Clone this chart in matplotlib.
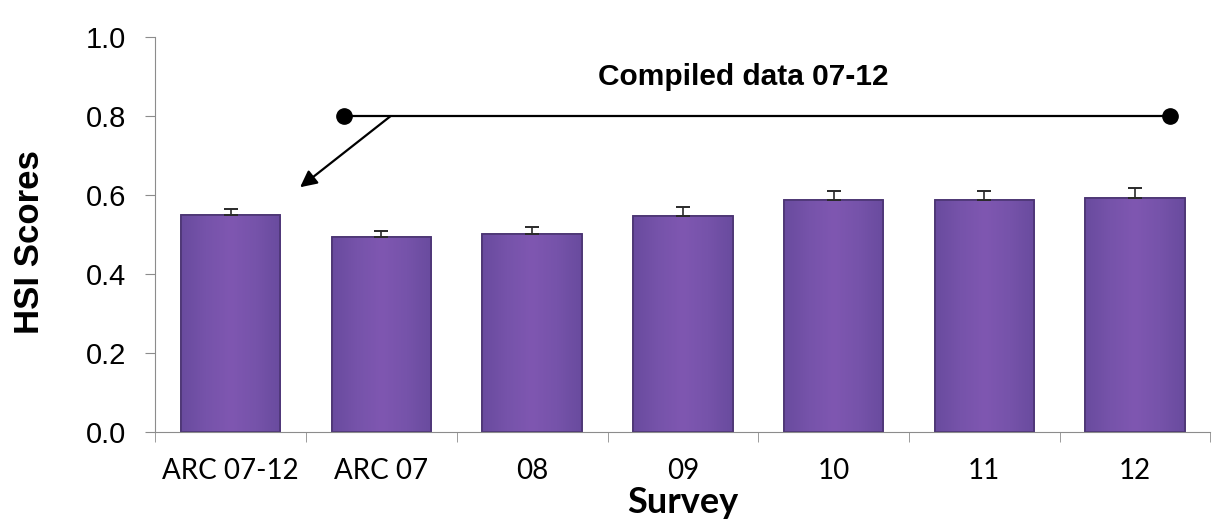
"""
HSI scores by survey, bar chart with error bars.
"""

import numpy as np
import matplotlib.pyplot as plt
from matplotlib.colors import LinearSegmentedColormap

surveys = ['ARC 07-12', 'ARC 07', '08', '09', '10', '11', '12']
hsi_scores = [0.549, 0.494, 0.501, 0.547, 0.587, 0.587, 0.592]
hsi_errors = [0.016, 0.016, 0.018, 0.022, 0.023, 0.024, 0.025]

BAR_EDGE = '#4b3573'
AXIS_GREY = '#8c8c8c'
# side-to-side shading of the bars
bar_cmap = LinearSegmentedColormap.from_list(
    'bar', ['#694b9e', '#7653aa', '#7f57b1', '#7653aa', '#694b9e'])

fig = plt.figure(figsize=(12.14, 5.32), dpi=100)
ax = fig.add_axes([0.128, 0.188, 0.869, 0.742])

x = np.arange(len(surveys))
bars = ax.bar(x, hsi_scores, width=0.66, color='#7552a8', edgecolor=BAR_EDGE,
              linewidth=1.2, zorder=2)
shade = np.linspace(0, 1, 256).reshape(1, -1)
for b in bars:
    bx, by = b.get_x(), b.get_y()
    im = ax.imshow(shade, cmap=bar_cmap, aspect='auto', zorder=2.1,
                   extent=[bx, bx + b.get_width(), by, by + b.get_height()])
    im.set_clip_path(b)
    ax.bar(b.get_x() + b.get_width() / 2, b.get_height(), width=b.get_width(),
           color='none', edgecolor=BAR_EDGE, linewidth=1.2, zorder=2.2)
ax.errorbar(x, hsi_scores, yerr=[np.zeros(len(x)), hsi_errors], fmt='none',
            ecolor='#2a2a2a', elinewidth=1.2, capsize=5, capthick=1.4, zorder=3)

ax.set_xlim(-0.5, len(surveys) - 0.5)
ax.set_ylim(0, 1.0)
ax.set_yticks(np.arange(0, 1.01, 0.2))
ax.set_yticklabels([f'{v:.1f}' for v in np.arange(0, 1.01, 0.2)],
                   fontsize=21, family='Liberation Sans')
ax.set_xticks(x)
ax.set_xticklabels(surveys, fontsize=20, family='Lato')
ax.set_xticks(np.arange(-0.5, len(surveys)), minor=True)
ax.tick_params(axis='x', which='major', length=0, pad=19)
ax.tick_params(axis='x', which='minor', length=7, color=AXIS_GREY)
ax.tick_params(axis='y', length=7, color=AXIS_GREY, pad=14)

for side in ('top', 'right'):
    ax.spines[side].set_visible(False)
for side in ('left', 'bottom'):
    ax.spines[side].set_color(AXIS_GREY)

ax.set_ylabel('HSI Scores', fontsize=25, fontweight='bold',
              family='Liberation Sans')
ax.yaxis.set_label_coords(-0.104, 0.48)
ax.set_xlabel('Survey', fontsize=26, fontweight='bold', family='Lato',
              labelpad=1)

# bracket for the compiled data
ax.plot([0.75, 6.23], [0.8, 0.8], color='black', lw=1.6,
        marker='o', markersize=11, clip_on=False, zorder=4)
ax.annotate('', xy=(0.46, 0.62), xytext=(1.06, 0.8),
            arrowprops=dict(arrowstyle='-|>', color='black', lw=1.6,
                            mutation_scale=25, shrinkA=0, shrinkB=0))
ax.text(3.40, 0.90, 'Compiled data 07-12', ha='center', va='center',
        fontsize=21.5, fontweight='bold', family='Liberation Sans')

plt.savefig('out.png')
